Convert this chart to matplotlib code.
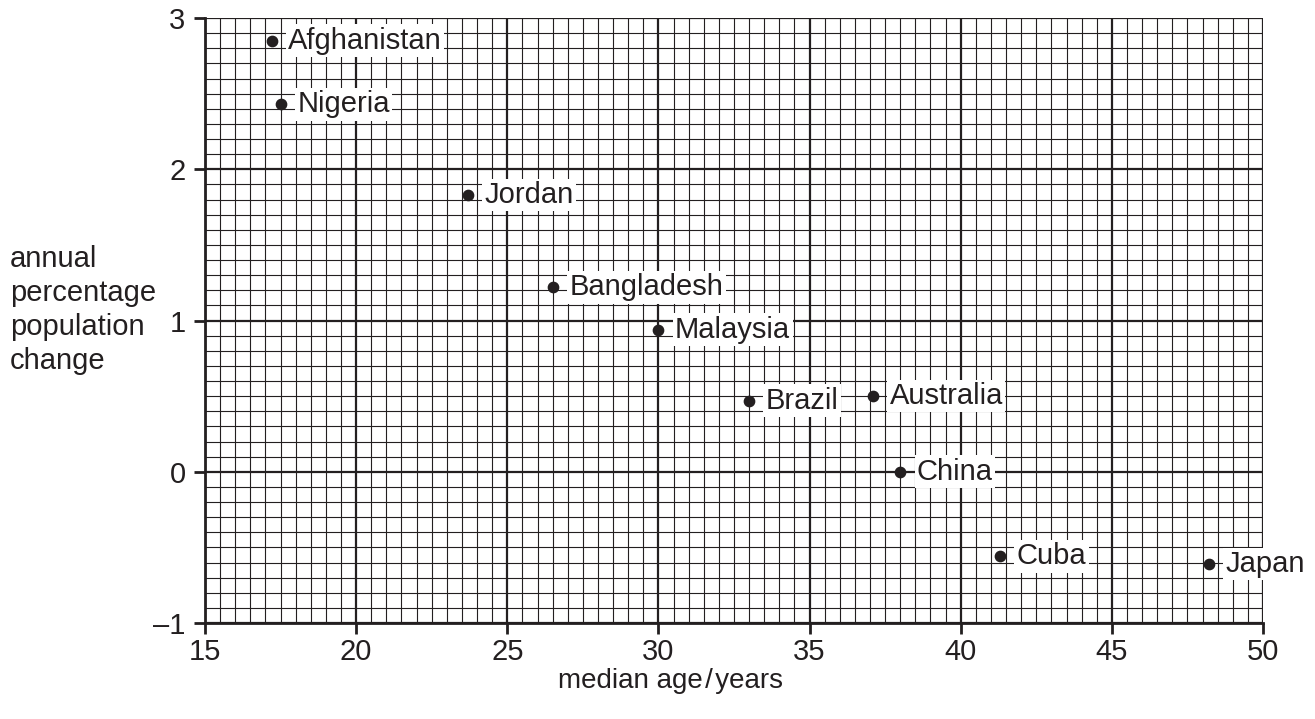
import matplotlib
matplotlib.use("Agg")
import matplotlib.pyplot as plt
import numpy as np

plt.rcParams['font.family'] = ['Liberation Sans', 'DejaVu Sans']

countries = ['Afghanistan', 'Nigeria', 'Jordan', 'Bangladesh', 'Malaysia',
             'Brazil', 'Australia', 'China', 'Cuba', 'Japan']
median_age = [17.2, 17.5, 23.7, 26.5, 30.0, 33.0, 37.1, 38.0, 41.3, 48.2]
pop_change = [2.85, 2.43, 1.83, 1.22, 0.94, 0.47, 0.50, 0.0, -0.56, -0.61]

x_ticks = [15, 20, 25, 30, 35, 40, 45, 50]
y_ticks = [-1, 0, 1, 2, 3]
y_tick_labels = ['\u20131', '0', '1', '2', '3']

ink = '#231f20'
fs = 21

fig = plt.figure(figsize=(13.15, 7.19), dpi=100)
ax = fig.add_axes([205 / 1315, 1 - 623 / 719, (1263 - 205) / 1315, (623 - 18) / 719])

ax.set_xlim(15, 50)
ax.set_ylim(-1, 3)

# graph paper grid
for xv in np.arange(15, 50.01, 0.5):
    major = abs(xv / 5 - round(xv / 5)) < 1e-6
    ax.axvline(xv, color=ink, lw=1.6 if major else 0.8, zorder=1)
for yv in np.arange(-1, 3.001, 0.1):
    major = abs(yv - round(yv)) < 1e-6
    ax.axhline(yv, color=ink, lw=1.6 if major else 0.8, zorder=1)

ax.scatter(median_age, pop_change, s=55, color=ink, zorder=4)
for name, xv, yv in zip(countries, median_age, pop_change):
    ax.annotate(name, (xv, yv), xytext=(12, 0), textcoords='offset points',
                fontsize=fs, color=ink, va='center', ha='left', zorder=3,
                annotation_clip=False,
                bbox=dict(boxstyle='square,pad=0.08', fc='white', ec='none'))

ax.set_xticks(x_ticks)
ax.set_xticklabels([str(v) for v in x_ticks])
ax.set_yticks(y_ticks)
ax.set_yticklabels(y_tick_labels)
ax.tick_params(direction='out', length=8, width=2, color=ink, labelcolor=ink,
               labelsize=fs, pad=3)
ax.tick_params(axis='y', pad=6)
for side in ['top', 'right']:
    ax.spines[side].set_visible(False)
for side in ['left', 'bottom']:
    ax.spines[side].set_linewidth(2)
    ax.spines[side].set_color(ink)

fig.text(10 / 1315, 1 - 310 / 719, 'annual\npercentage\npopulation\nchange',
         fontsize=fs, color=ink, ha='left', va='center', linespacing=1.27)
fig.text(670 / 1315, 1 - 681 / 719, 'median age\u200a/\u200ayears',
         fontsize=20, color=ink, ha='center', va='center')

fig.savefig('out.png', dpi=100)
